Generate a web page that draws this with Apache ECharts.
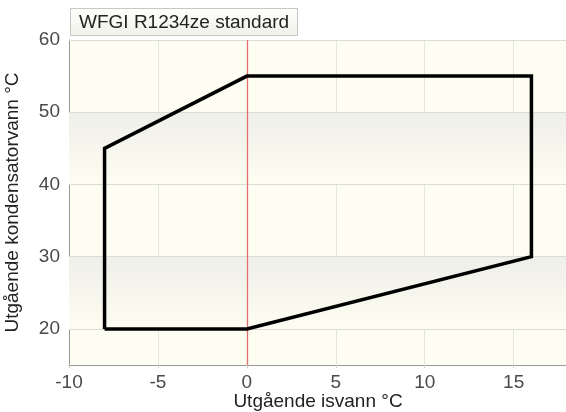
<!DOCTYPE html>
<html><head><meta charset="utf-8">
<script src="https://cdn.jsdelivr.net/npm/echarts@6/dist/echarts.min.js"></script>
<style>html,body{margin:0;padding:0;background:#fff}#c{width:566px;height:412px}</style>
</head><body><div id="c"></div>
<script>
const titleText = "WFGI R1234ze standard";
const xName = "Utgående isvann °C";
const yName = "Utgående kondensatorvann °C";
const envelopeX = [-8, 0, 16, 16, 0, -8, -8];
const envelopeY = [20, 20, 30, 55, 55, 45, 20];
const xRange = [-10, 18];
const xStep = 5;
const yRange = [15, 60];
const yLabelValues = [20, 30, 40, 50, 60];
const shadedBands = [[50, 40], [30, 20]];
const refLineX = 0;

const chart = echarts.init(document.getElementById('c'), null, {renderer: 'canvas'});
const cream = '#fdfdf1';
const grad = new echarts.graphic.LinearGradient(0, 0, 0, 1, [
  {offset: 0, color: '#efefea'}, {offset: 1, color: cream}
]);
const FF = 'Liberation Sans, Arial';
const labelFont = {fontFamily: FF, fontSize: 19, color: '#4a4a4a'};
chart.setOption({
  animation: false,
  title: {
    text: titleText, left: 70, top: 8,
    padding: [5, 9, 4, 9],
    backgroundColor: new echarts.graphic.LinearGradient(0, 0, 0, 1, [
      {offset: 0, color: '#ffffff'}, {offset: 1, color: '#f1f1e9'}]),
    borderColor: '#c8c8c0', borderWidth: 1,
    textStyle: {fontFamily: FF, fontSize: 19, fontWeight: 'normal', color: '#222'}
  },
  grid: {left: 69, top: 40, width: 498, height: 325, show: true, backgroundColor: cream, borderWidth: 0,
         containLabel: false, outerBoundsMode: 'none'},
  xAxis: {
    type: 'value', min: xRange[0], max: xRange[1], interval: xStep,
    name: xName, nameLocation: 'middle', nameGap: 27, nameMoveOverlap: false,
    nameTextStyle: {fontFamily: FF, fontSize: 19, color: '#222', verticalAlign: 'top', lineHeight: 19},
    axisLine: {show: true, onZero: false, lineStyle: {color: '#999', width: 1}},
    axisTick: {show: true, length: 3, lineStyle: {color: '#ccc'}},
    axisLabel: Object.assign({margin: 8, showMaxLabel: false}, labelFont),
    splitLine: {show: true, lineStyle: {color: '#e6e6e0', width: 1}}
  },
  yAxis: {
    type: 'value', min: yRange[0], max: yRange[1], interval: 5,
    name: yName, nameLocation: 'middle', nameGap: 47,
    nameTextStyle: {fontFamily: FF, fontSize: 19, color: '#222'},
    axisLine: {show: true, onZero: false, lineStyle: {color: '#999', width: 1}},
    axisTick: {show: false},
    axisLabel: Object.assign({margin: 9, formatter: v => yLabelValues.includes(v) ? String(v) : ''}, labelFont),
    splitLine: {show: false}
  },
  series: [{
    type: 'line',
    data: [],
    markArea: {
      silent: true,
      itemStyle: {color: grad},
      data: shadedBands.map(b => [{yAxis: b[0]}, {yAxis: b[1]}])
    },
    markLine: {
      silent: true, symbol: 'none', label: {show: false}, animation: false,
      lineStyle: {color: '#dcdcd6', width: 1, type: 'solid'},
      data: yLabelValues.map(v => ({yAxis: v}))
    },
    z: 2
  }, {
    type: 'line',
    data: [],
    markLine: {
      silent: true, symbol: 'none', label: {show: false}, animation: false,
      lineStyle: {color: '#e07070', width: 1.3, type: 'solid', opacity: 1},
      data: [{xAxis: refLineX}]
    },
    z: 3
  }, {
    type: 'line',
    data: envelopeX.map((x, i) => [x, envelopeY[i]]),
    symbol: 'none',
    lineStyle: {color: '#000', width: 3.5, join: 'miter'},
    z: 5
  }]
});
</script></body></html>
